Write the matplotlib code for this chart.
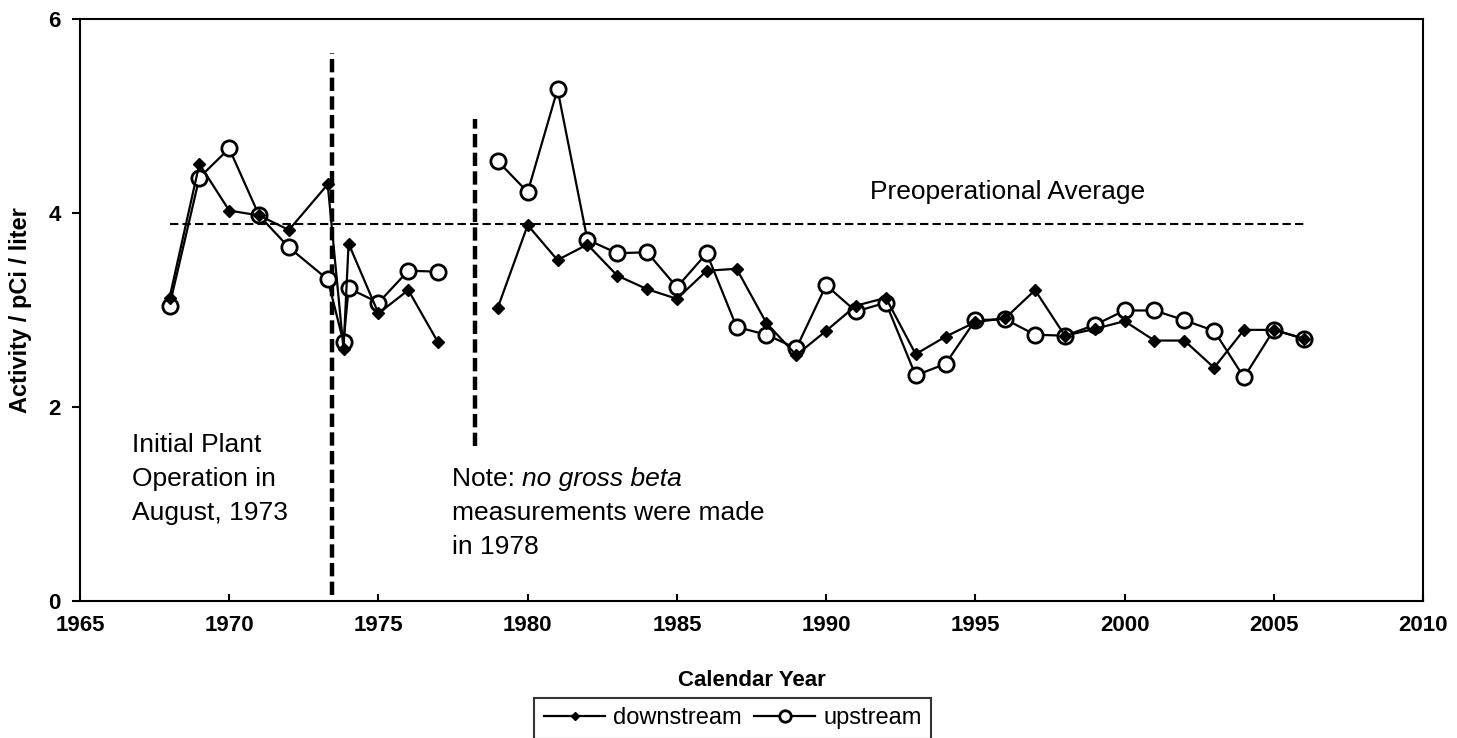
import numpy as np
import matplotlib
matplotlib.use("Agg")
import matplotlib.pyplot as plt

plt.rcParams['font.family'] = ['Liberation Sans', 'DejaVu Sans']

# sampling years (1973 split around plant start-up, no data for 1978)
years = [1968, 1969, 1970, 1971, 1972, 1973.3, 1973.83, 1974, 1975, 1976, 1977, 1978,
         1979, 1980, 1981, 1982, 1983, 1984, 1985, 1986, 1987, 1988, 1989, 1990,
         1991, 1992, 1993, 1994, 1995, 1996, 1997, 1998, 1999, 2000, 2001, 2002,
         2003, 2004, 2005, 2006]

downstream = [3.13, 4.51, 4.03, 3.98, 3.83, 4.30, 2.60, 3.69, 2.97, 3.21, 2.67, np.nan,
              3.03, 3.88, 3.52, 3.68, 3.36, 3.22, 3.12, 3.41, 3.43, 2.87, 2.54, 2.79,
              3.05, 3.13, 2.55, 2.73, 2.88, 2.92, 3.21, 2.74, 2.81, 2.89, 2.69, 2.69,
              2.41, 2.80, 2.80, 2.71]

upstream = [3.05, 4.37, 4.67, 3.98, 3.65, 3.32, 2.67, 3.23, 3.08, 3.41, 3.40, np.nan,
            4.54, 4.22, 5.28, 3.73, 3.59, 3.60, 3.24, 3.59, 2.83, 2.75, 2.61, 3.26,
            2.99, 3.08, 2.33, 2.45, 2.90, 2.91, 2.75, 2.74, 2.85, 3.00, 3.00, 2.90,
            2.79, 2.31, 2.80, 2.71]

preop_avg = 3.89
preop_span = [1968, 2006]
startup_line = [1973.43, 0.07, 5.65]   # x, ymin, ymax
gap_line = [1978.22, 1.60, 4.97]

plant_note = ['Initial Plant', 'Operation in', 'August, 1973']
gap_note = ['measurements were made', 'in 1978']

fig = plt.figure(figsize=(14.57, 7.38), dpi=100)
ax = fig.add_axes([0.0549, 0.185, 0.9218, 0.7886])

ax.plot(years, upstream, color='black', lw=1.6, marker='o', ms=11,
        mfc='white', mec='black', mew=2, label='upstream', zorder=3)
ax.plot(years, downstream, color='black', lw=1.6, marker='D', ms=6,
        mfc='black', mec='black', label='downstream', zorder=4)

ax.plot(preop_span, [preop_avg, preop_avg], color='black', lw=1.5,
        ls=(0, (4, 2)), zorder=2)
ax.vlines(startup_line[0], startup_line[1], startup_line[2], color='black',
          lw=3.2, ls=(0, (3, 1.2)), zorder=2)
ax.vlines(gap_line[0], gap_line[1], gap_line[2], color='black',
          lw=3.2, ls=(0, (3, 1.2)), zorder=2)

fs = 19
ax.text(2000.7, 4.15, 'Preoperational Average', ha='right', va='baseline', fontsize=fs)

# one text per line so the spacing follows the reference
for i, line in enumerate(plant_note):
    ax.text(1966.75, 1.54 - 0.35 * i, line, ha='left', va='baseline', fontsize=fs)

note = ax.text(1977.45, 1.19, 'Note: ', ha='left', va='baseline', fontsize=fs)
ax.annotate('no gross beta', xy=(1, 0), xycoords=note, ha='left', va='bottom',
            fontsize=fs, style='italic')
for i, line in enumerate(gap_note):
    ax.text(1977.45, 0.84 - 0.35 * i, line, ha='left', va='baseline', fontsize=fs)

ax.set_xlim(1965, 2010)
ax.set_ylim(0, 6)
ax.set_xticks([1965, 1970, 1975, 1980, 1985, 1990, 1995, 2000, 2005, 2010])
ax.set_yticks([0, 2, 4, 6])
ax.tick_params(axis='x', direction='in', length=5, width=1.5, labelsize=16, pad=10)
ax.tick_params(axis='y', direction='out', length=6, width=1.5, labelsize=16, pad=8)
for lbl in ax.get_xticklabels() + ax.get_yticklabels():
    lbl.set_fontweight('bold')
for s in ax.spines.values():
    s.set_linewidth(1.5)

ax.set_xlabel('Calendar Year', fontsize=16, fontweight='bold', labelpad=24)
ax.set_ylabel('Activity / pCi / liter', fontsize=17, fontweight='bold', labelpad=12)

h, l = ax.get_legend_handles_labels()
leg = fig.legend([h[1], h[0]], [l[1], l[0]], loc='center', bbox_to_anchor=(0.503, 0.027),
                 ncol=2, fontsize=17, frameon=True, fancybox=False, edgecolor='black',
                 handlelength=2.6, columnspacing=0.5, handletextpad=0.35,
                 borderpad=0.4, markerscale=0.75)
leg.get_frame().set_linewidth(1.5)

fig.savefig('out.png', dpi=100)
